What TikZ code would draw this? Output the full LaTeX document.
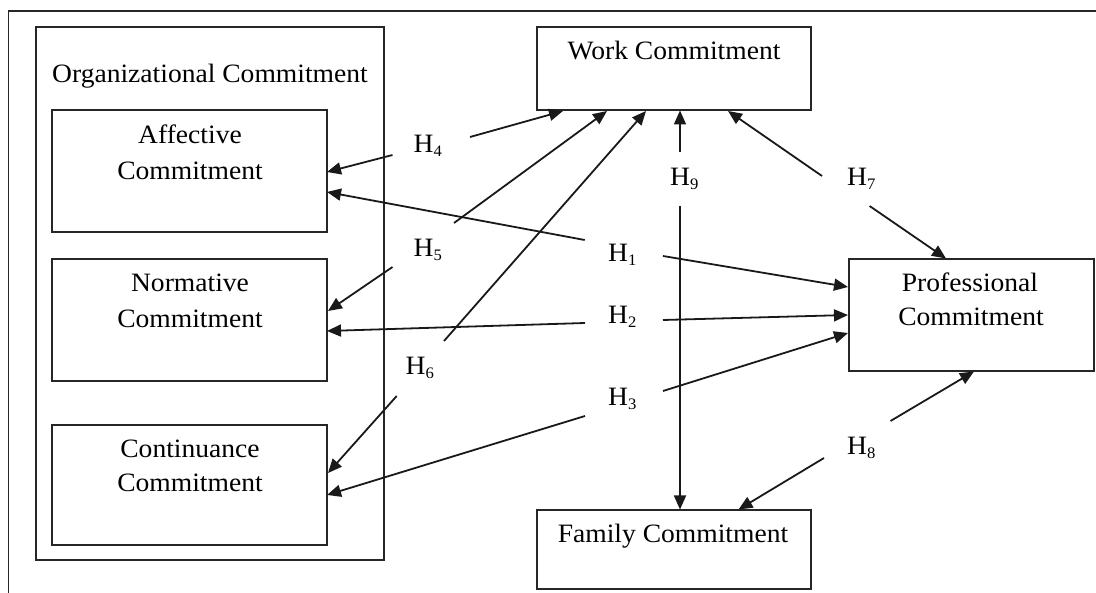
\documentclass[tikz,border=0pt]{standalone}
\usepackage{fontspec}
\setmainfont{Liberation Serif}[FakeStretch=1.04]
\usetikzlibrary{arrows.meta}
\newcommand\hyp[1]{H\raisebox{-0.25ex}{\fontsize{16}{16}\selectfont #1}}
\tikzset{
  boxst/.style={draw=black!85, line width=2pt},
  txt/.style={anchor=base, inner sep=0pt, font=\fontsize{26.5}{30}\selectfont, text=black},
  hlab/.style={anchor=base west, inner sep=0pt, font=\fontsize{26.5}{30}\selectfont, text=black},
  arr/.style={draw=black!90, line width=1.8pt, -{Triangle[length=14pt,width=12pt]}}
}
\begin{document}
\begin{tikzpicture}[x=1pt,y=-1pt]
\useasboundingbox (0,0) rectangle (1096,593);
% outer frame
\draw[line width=1.6pt, black!85] (8.4,593) -- (8.4,11) -- (1096,11);
% boxes
\node[boxst, inner sep=0pt, minimum width=348pt, minimum height=533pt] (org) at (209.75,293.5) {};
\node[boxst, inner sep=0pt, minimum width=275pt, minimum height=122pt] (aff) at (189.5,171) {};
\node[boxst, inner sep=0pt, minimum width=275pt, minimum height=122pt] (norm) at (189.5,320) {};
\node[boxst, inner sep=0pt, minimum width=275pt, minimum height=120pt] (cont) at (189.5,485) {};
\node[boxst, inner sep=0pt, minimum width=274.5pt, minimum height=83pt] (work) at (673.75,68.5) {};
\node[boxst, inner sep=0pt, minimum width=245.4pt, minimum height=112pt] (prof) at (971.3,315) {};
\node[boxst, inner sep=0pt, minimum width=274.5pt, minimum height=79pt] (fam) at (673.75,549.5) {};
% texts
\node[txt] (orgt) at (210,83) {Organizational Commitment};
\node[txt] (afft1) at (190,144) {Affective};
\node[txt] (afft2) at (190,180) {Commitment};
\node[txt] (normt1) at (190,292) {Normative};
\node[txt] (normt2) at (190,328) {Commitment};
\node[txt] (contt1) at (190,458) {Continuance};
\node[txt] (contt2) at (190,492) {Commitment};
\node[txt] (workt) at (674,60) {Work Commitment};
\node[txt] (proft1) at (970,292) {Professional};
\node[txt] (proft2) at (971,326) {Commitment};
\node[txt] (famt) at (673,543) {Family Commitment};
% hypothesis labels
\node[hlab] (h4) at (413.5,153) {\hyp{4}};
\node[hlab] (h5) at (413.5,257) {\hyp{5}};
\node[hlab] (h6) at (405.5,375) {\hyp{6}};
\node[hlab] (h9) at (670,186) {\hyp{9}};
\node[hlab] (h7) at (847,186) {\hyp{7}};
\node[hlab] (h1) at (608,262) {\hyp{1}};
\node[hlab] (h2) at (608,324) {\hyp{2}};
\node[hlab] (h3) at (608,406) {\hyp{3}};
\node[hlab] (h8) at (847,455) {\hyp{8}};
% connector end points
\coordinate (h4a) at (392.5,155); \coordinate (aff4) at (327,172);
\coordinate (h4b) at (470,137);   \coordinate (work4) at (563,111);
\coordinate (h5a) at (392.5,267); \coordinate (norm5) at (328,311);
\coordinate (h5b) at (454,223);   \coordinate (work5) at (607,111);
\coordinate (h6b) at (444,341);   \coordinate (work6) at (646,111);
\coordinate (h6a) at (396.7,396); \coordinate (cont6) at (328,473);
\coordinate (h1a) at (584.7,240); \coordinate (aff1) at (327,192);
\coordinate (h1b) at (663,256);   \coordinate (prof1) at (848,287);
\coordinate (h2a) at (585,323);   \coordinate (norm2) at (327,331);
\coordinate (h2b) at (663,320);   \coordinate (prof2) at (848,315);
\coordinate (h3a) at (585,416);   \coordinate (cont3) at (327,495);
\coordinate (h3b) at (663,391);   \coordinate (prof3) at (848,333);
\coordinate (h9a) at (680,152);   \coordinate (work9) at (680,110.5);
\coordinate (h9b) at (680,206);   \coordinate (fam9) at (680,509.5);
\coordinate (h7a) at (822,176);   \coordinate (work7) at (728,111);
\coordinate (h7b) at (869.6,206); \coordinate (prof7) at (946,258.5);
\coordinate (h8a) at (890.5,421); \coordinate (prof8) at (974,371.5);
\coordinate (h8b) at (824,458);   \coordinate (fam8) at (738.5,509.5);
% connectors
\draw[arr] (h4a) -- (aff4);
\draw[arr] (h4b) -- (work4);
\draw[arr] (h5a) -- (norm5);
\draw[arr] (h5b) -- (work5);
\draw[arr] (h6b) -- (work6);
\draw[arr] (h6a) -- (cont6);
\draw[arr] (h1a) -- (aff1);
\draw[arr] (h1b) -- (prof1);
\draw[arr] (h2a) -- (norm2);
\draw[arr] (h2b) -- (prof2);
\draw[arr] (h3a) -- (cont3);
\draw[arr] (h3b) -- (prof3);
\draw[arr] (h9a) -- (work9);
\draw[arr] (h9b) -- (fam9);
\draw[arr] (h7a) -- (work7);
\draw[arr] (h7b) -- (prof7);
\draw[arr] (h8a) -- (prof8);
\draw[arr] (h8b) -- (fam8);
\end{tikzpicture}
\end{document}
